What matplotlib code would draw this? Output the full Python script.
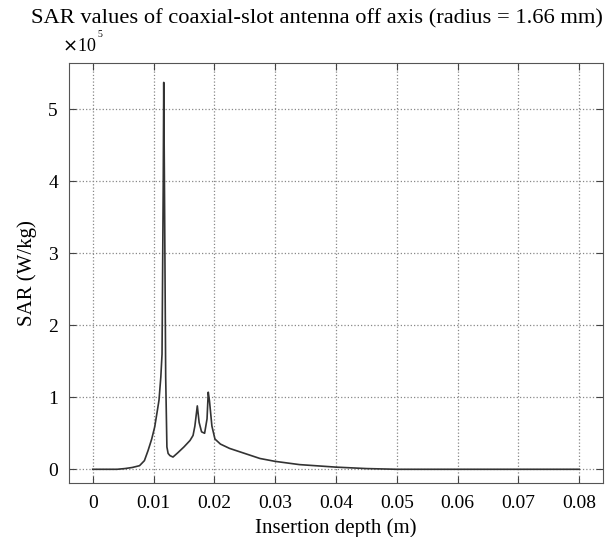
import matplotlib.pyplot as plt

# SAR along the off-axis line (values in units of 1e5 W/kg)
depth = [0, 0.002, 0.004, 0.0053, 0.0065, 0.0077, 0.0085, 0.0091, 0.0097,
         0.0102, 0.0106, 0.0109, 0.0112, 0.0114, 0.0116, 0.01168, 0.0118,
         0.0120, 0.0122, 0.0124, 0.0127, 0.0132, 0.0140, 0.0150, 0.0160,
         0.0165, 0.0168, 0.0172, 0.0175, 0.0179, 0.0184, 0.0188, 0.0190,
         0.0192, 0.0196, 0.0201, 0.0210, 0.0225, 0.0250, 0.0275, 0.0300,
         0.0340, 0.0400, 0.0450, 0.0500, 0.0600, 0.0700, 0.0800]
sar = [0, 0, 0, 0.01, 0.025, 0.05, 0.12, 0.26, 0.42,
       0.59, 0.80, 0.96, 1.28, 1.60, 4.0, 5.37, 3.9,
       1.28, 0.31, 0.22, 0.19, 0.17, 0.23, 0.31, 0.40,
       0.47, 0.60, 0.88, 0.65, 0.52, 0.50, 0.70, 1.07,
       0.95, 0.60, 0.42, 0.35, 0.29, 0.22, 0.15, 0.11,
       0.065, 0.03, 0.01, 0.0, 0, 0, 0]

xticks = [0, 0.01, 0.02, 0.03, 0.04, 0.05, 0.06, 0.07, 0.08]
xlabels = ['0', '0.01', '0.02', '0.03', '0.04', '0.05', '0.06', '0.07', '0.08']
yticks = [0, 1, 2, 3, 4, 5]

plt.rcParams['font.family'] = ['Liberation Serif', 'DejaVu Serif']

fig = plt.figure(figsize=(6.09, 5.37), dpi=100)
ax = fig.add_axes([0.1133, 0.1006, 0.8767, 0.7821])

ax.plot(depth, sar, color='#333333', linewidth=1.2)

ax.set_xlim(-0.0039, 0.0839)
ax.set_ylim(-0.19, 5.64)
ax.set_xticks(xticks)
ax.set_xticklabels(xlabels)
ax.set_yticks(yticks)
ax.tick_params(direction='in', length=5, labelsize=14, top=True, right=True,
               color='#444444')
ax.tick_params(axis='x', pad=9)
ax.tick_params(axis='y', pad=8)
ax.grid(True, linestyle=':', color='#888888', linewidth=0.9)
for s in ax.spines.values():
    s.set_color('#555555')

fig.text(0.52, 0.965,
         'SAR values of coaxial-slot antenna off axis (radius = 1.66 mm)',
         fontsize=16.2, ha='center', va='center')
ax.text(-0.013, 1.02, r'$\times$10', transform=ax.transAxes,
        fontsize=13, va='bottom', ha='left')
ax.text(0.054, 1.058, '5', transform=ax.transAxes,
        fontsize=7, va='bottom', ha='left')
ax.set_xlabel('Insertion depth (m)', fontsize=15, labelpad=4)
ax.set_ylabel('SAR (W/kg)', fontsize=15, labelpad=8)

fig.savefig('out.png', dpi=100)
